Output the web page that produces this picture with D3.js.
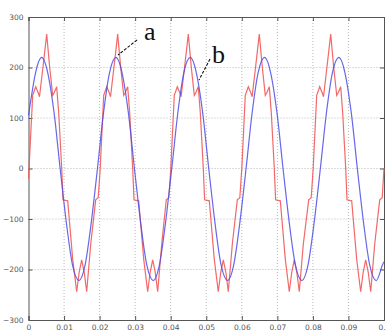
<!DOCTYPE html>
<html>
<head>
<meta charset="utf-8">
<script src="https://cdn.jsdelivr.net/npm/d3@7"></script>
<style>
  body { margin: 0; background: #fff; }
  svg { display: block; }
</style>
</head>
<body>
<svg id="chart" width="386" height="331"></svg>
<script>
// tick labels
const xTicks = [0, 0.01, 0.02, 0.03, 0.04, 0.05, 0.06, 0.07, 0.08, 0.09, 0.1];
const yTicks = [-300, -200, -100, 0, 100, 200, 300];

// curve b (blue)
const blueT = [0, 0.0020, 0.0037, 0.0054, 0.0072, 0.0089, 0.0107, 0.0124, 0.0142, 0.0159, 0.0176, 0.0194,
  0.0211, 0.0228, 0.0246, 0.0263, 0.0281, 0.0298, 0.0316, 0.0333, 0.0351, 0.0368, 0.0385, 0.0403,
  0.0420, 0.0437, 0.0455, 0.0472, 0.0490, 0.0507, 0.0525, 0.0542, 0.0560, 0.0577, 0.0594, 0.0612,
  0.0629, 0.0646, 0.0664, 0.0681, 0.0699, 0.0716, 0.0734, 0.0751, 0.0769, 0.0786, 0.0803, 0.0821,
  0.0838, 0.0855, 0.0873, 0.0890, 0.0908, 0.0925, 0.0943, 0.0960, 0.0978, 0.0995, 0.1];
const blueV = [105, 190, 220, 190, 110, 0, -110, -192, -222, -192, -110, 0,
  110, 190, 220, 190, 110, 0, -110, -192, -222, -192, -110, 0,
  110, 190, 220, 190, 110, 0, -110, -192, -222, -192, -110, 0,
  110, 190, 220, 190, 110, 0, -110, -192, -222, -192, -110, 0,
  110, 190, 220, 190, 110, 0, -110, -192, -222, -192, -185];

// curve a (red)
const redT = [
  0, 0.00118, 0.00203, 0.00273, 0.00309, 0.00414, 0.00512, 0.00596, 0.00681, 0.00723, 0.00793, 0.00850,
  0.00934, 0.00970, 0.01103, 0.01243, 0.01356, 0.01426, 0.01496, 0.01567, 0.01637, 0.01750,
  0.01890, 0.01961, 0.02017, 0.02115, 0.02200, 0.02270, 0.02307, 0.02411, 0.02509, 0.02594, 0.02678, 0.02720,
  0.02790, 0.02847, 0.02931, 0.02968, 0.03100, 0.03241, 0.03353, 0.03423, 0.03494, 0.03564, 0.03634, 0.03747,
  0.03876, 0.03947, 0.04003, 0.04101, 0.04186, 0.04256, 0.04293, 0.04397, 0.04495, 0.04580, 0.04664, 0.04706,
  0.04776, 0.04833, 0.04917, 0.04954, 0.05086, 0.05226, 0.05339, 0.05409, 0.05480, 0.05550, 0.05620, 0.05733,
  0.05873, 0.05944, 0.06000, 0.06098, 0.06183, 0.06253, 0.06290, 0.06394, 0.06492, 0.06577, 0.06661, 0.06703,
  0.06774, 0.06830, 0.06914, 0.06951, 0.07083, 0.07224, 0.07336, 0.07406, 0.07477, 0.07547, 0.07617, 0.07730,
  0.07882, 0.07952, 0.08008, 0.08107, 0.08191, 0.08262, 0.08298, 0.08402, 0.08501, 0.08585, 0.08670, 0.08712,
  0.08782, 0.08838, 0.08923, 0.08959, 0.09091, 0.09232, 0.09344, 0.09415, 0.09485, 0.09556, 0.09626, 0.09738,
  0.09879, 0.09949, 0.1];
const redV = [
  -20, 145, 162, 150, 142, 205, 266, 200, 145, 150, 162, 110,
  0, -62, -64, -180, -244, -205, -181, -205, -244, -150,
  -62, -58, 0, 145, 162, 150, 142, 205, 266, 200, 145, 150,
  162, 110, 0, -62, -64, -180, -244, -205, -181, -205, -244, -150,
  -62, -58, 0, 145, 162, 150, 142, 205, 266, 200, 145, 150,
  162, 110, 0, -62, -64, -180, -244, -205, -181, -205, -244, -150,
  -62, -58, 0, 145, 162, 150, 142, 205, 266, 200, 145, 150,
  162, 110, 0, -62, -64, -180, -244, -205, -181, -205, -244, -150,
  -62, -58, 0, 145, 162, 150, 142, 205, 266, 200, 145, 150,
  162, 110, 0, -62, -64, -180, -244, -205, -181, -205, -244, -150,
  -62, -58, 0];

const svg = d3.select("#chart");
const plotL = 28.5, plotR = 384, plotT = 17, plotB = 320;

const x = d3.scaleLinear().domain([0, 0.1]).range([plotL, plotR]);
const y = d3.scaleLinear().domain([-300, 300]).range([plotB, plotT]);

// dotted grid
svg.append("g").selectAll("line")
  .data(xTicks.slice(1, -1))
  .join("line")
  .attr("x1", d => x(d)).attr("x2", d => x(d))
  .attr("y1", plotT).attr("y2", plotB)
  .attr("stroke", "#b8b8b8").attr("stroke-width", 1)
  .attr("stroke-dasharray", "1,2");
svg.append("g").selectAll("line")
  .data(yTicks.slice(1, -1))
  .join("line")
  .attr("x1", plotL).attr("x2", plotR)
  .attr("y1", d => y(d)).attr("y2", d => y(d))
  .attr("stroke", "#b8b8b8").attr("stroke-width", 1)
  .attr("stroke-dasharray", "1,2");

// axes with inward ticks
const fmt = d => d === 0 ? "0" : String(d);
const axB = svg.append("g").attr("transform", `translate(0,${plotB})`)
  .call(d3.axisBottom(x).tickValues(xTicks).tickSize(-4).tickPadding(5).tickFormat(fmt));
const axT = svg.append("g").attr("transform", `translate(0,${plotT})`)
  .call(d3.axisTop(x).tickValues(xTicks).tickSize(-4).tickFormat(""));
const axL = svg.append("g").attr("transform", `translate(${plotL},0)`)
  .call(d3.axisLeft(y).tickValues(yTicks).tickSize(-4).tickPadding(5));
const axR = svg.append("g").attr("transform", `translate(${plotR},0)`)
  .call(d3.axisRight(y).tickValues(yTicks).tickSize(-4).tickFormat(""));
[axB, axT, axL, axR].forEach(g => {
  g.select(".domain").attr("stroke", "#555");
  g.selectAll(".tick line").attr("stroke", "#555");
  g.selectAll("text").attr("fill", "#555").attr("font-size", 7.5)
    .attr("font-family", "DejaVu Sans, sans-serif");
});

// the two waveforms
const redLine = d3.line().x((d, i) => x(redT[i])).y(d => y(d));
const blueLine = d3.line().x((d, i) => x(blueT[i])).y(d => y(d)).curve(d3.curveCardinal);

svg.append("path")
  .attr("d", redLine(redV))
  .attr("fill", "none")
  .attr("stroke", "#f25858")
  .attr("stroke-width", 1.2)
  .attr("stroke-opacity", 0.9);
svg.append("path")
  .attr("d", blueLine(blueV))
  .attr("fill", "none")
  .attr("stroke", "#4c4ce6")
  .attr("stroke-width", 1.2)
  .attr("stroke-opacity", 0.85);

// labels a and b with leader lines
svg.append("line")
  .attr("x1", 137).attr("y1", 40).attr("x2", 118).attr("y2", 55)
  .attr("stroke", "#111").attr("stroke-width", 1.1).attr("stroke-dasharray", "3,1.5");
svg.append("line")
  .attr("x1", 210).attr("y1", 59).attr("x2", 199).attr("y2", 80)
  .attr("stroke", "#111").attr("stroke-width", 1.1).attr("stroke-dasharray", "3,1.5");
svg.append("text").attr("x", 144).attr("y", 40)
  .attr("font-family", "Liberation Serif, serif").attr("font-size", 26)
  .attr("fill", "#111").text("a");
svg.append("text").attr("x", 212).attr("y", 63)
  .attr("font-family", "Liberation Serif, serif").attr("font-size", 26)
  .attr("fill", "#111").text("b");
</script>
</body>
</html>
